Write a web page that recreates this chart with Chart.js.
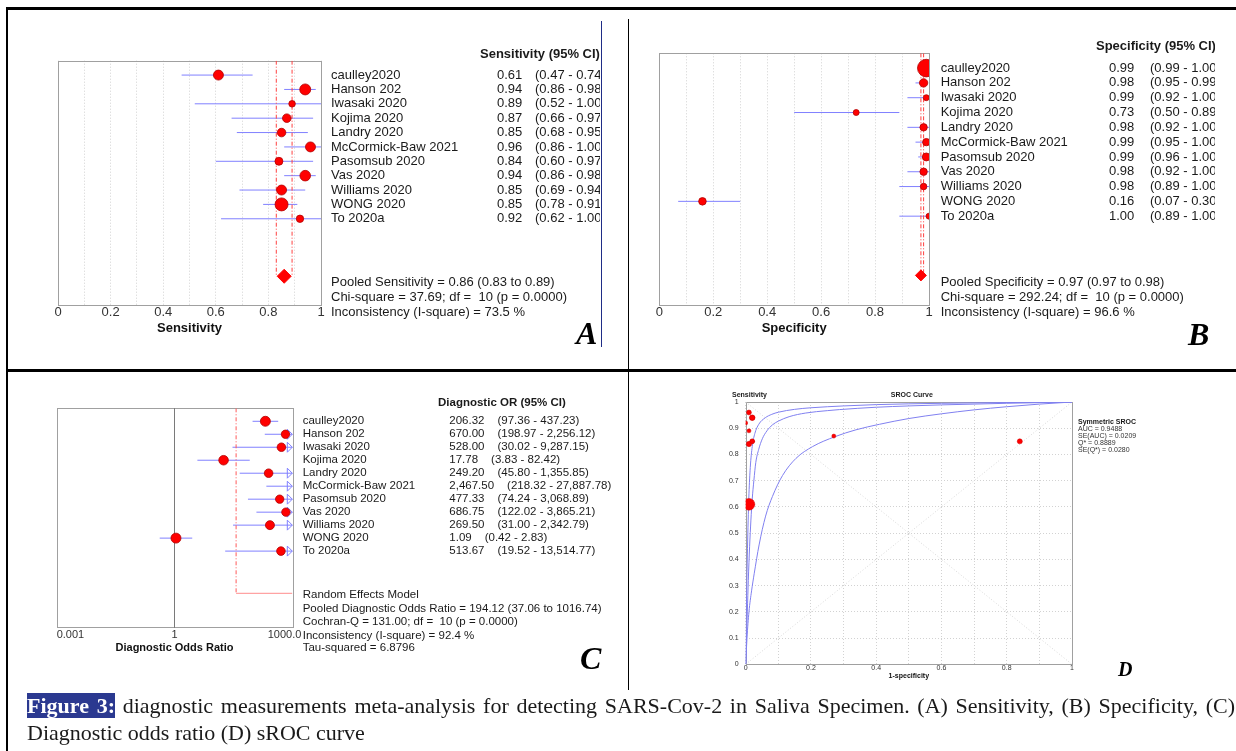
<!DOCTYPE html>
<html lang="en">
<head>
<meta charset="UTF-8">
<title>Figure 3 - saliva specimen meta-analysis</title>
<style>
  body { margin: 0; background: #fff; }
  #page { position: relative; width: 1236px; height: 751px; overflow: hidden; background: #fff; }
  #page canvas { position: absolute; left: 0; top: 0; }
  .rule { position: absolute; background: #000; }
  .letter { position: absolute; font-family: "Liberation Serif", serif; font-weight: bold; font-style: italic; line-height: 1; color: #000; }
  #caption { position: absolute; left: 27px; top: 692px; width: 1208px; font-family: "Liberation Serif", serif; font-size: 22px; line-height: 27px; color: #1a1a1a; }
  #caption .l1 { text-align: justify; text-align-last: justify; }
  #caption .fig { background: #2b3990; color: #fff; font-weight: bold; }
</style>
<script src="https://cdn.jsdelivr.net/npm/chart.js"></script>
</head>
<body>
<div id="page">
  <canvas id="panelA" width="1236" height="751"></canvas>
  <canvas id="panelB" width="1236" height="751"></canvas>
  <canvas id="panelC" width="1236" height="751"></canvas>
  <canvas id="panelD" width="1236" height="751"></canvas>

  <div class="rule" style="left:7px;top:7px;width:1229px;height:3px"></div>
  <div class="rule" style="left:6px;top:7px;width:2px;height:744px"></div>
  <div class="rule" style="left:7px;top:369px;width:1229px;height:3px"></div>
  <div class="rule" style="left:628px;top:19px;width:1px;height:671px"></div>
  <div class="rule" style="left:601px;top:21px;width:1px;height:326px;background:#1f2d86"></div>

  <div class="letter" style="left:576px;top:317px;font-size:32px">A</div>
  <div class="letter" style="left:1188px;top:318px;font-size:32px">B</div>
  <div class="letter" style="left:580px;top:642px;font-size:32px">C</div>
  <div class="letter" style="left:1118px;top:659px;font-size:20px">D</div>

  <div id="caption">
    <div class="l1"><span class="fig">Figure 3:</span> diagnostic measurements meta-analysis for detecting SARS-Cov-2 in Saliva Specimen. (A) Sensitivity, (B) Specificity, (C)</div>
    <div class="l2">Diagnostic odds ratio (D) sROC curve</div>
  </div>
</div>

<script>
// ---------- data ----------
const studies = ['caulley2020', 'Hanson 202', 'Iwasaki 2020', 'Kojima 2020', 'Landry 2020',
  'McCormick-Baw 2021', 'Pasomsub 2020', 'Vas 2020', 'Williams 2020', 'WONG 2020', 'To 2020a'];

const sens       = [0.61, 0.94, 0.89, 0.87, 0.85, 0.96, 0.84, 0.94, 0.85, 0.85, 0.92];
const sensLo     = [0.47, 0.86, 0.52, 0.66, 0.68, 0.86, 0.60, 0.86, 0.69, 0.78, 0.62];
const sensHi     = [0.74, 0.98, 1.00, 0.97, 0.95, 1.00, 0.97, 0.98, 0.94, 0.91, 1.00];
const sensWeight = [11.1, 13.4, 4.8, 8.2, 8.2, 11.1, 7.1, 12.5, 11.1, 18.8, 6.1];
const sensPooled = [0.86, 0.83, 0.89];
const sensChi    = [37.69, 10, 0.0000];
const sensI2     = 73.5;

const spec       = [0.99, 0.98, 0.99, 0.73, 0.98, 0.99, 0.99, 0.98, 0.98, 0.16, 1.00];
const specLo     = [0.99, 0.95, 0.92, 0.50, 0.92, 0.95, 0.96, 0.92, 0.89, 0.07, 0.89];
const specHi     = [1.00, 0.99, 1.00, 0.89, 1.00, 1.00, 1.00, 1.00, 1.00, 0.30, 1.00];
const specWeight = [34.4, 7.8, 4.0, 4.0, 6.1, 6.1, 7.1, 6.1, 4.8, 6.4, 4.0];
const specPooled = [0.97, 0.97, 0.98];
const specChi    = [292.24, 10, 0.0000];
const specI2     = 96.6;

const dor       = [206.32, 670.00, 528.00, 17.78, 249.20, 2467.50, 477.33, 686.75, 269.50, 1.09, 513.67];
const dorLo     = [97.36, 198.97, 30.02, 3.83, 45.80, 218.32, 74.24, 122.02, 31.00, 0.42, 19.52];
const dorHi     = [437.23, 2256.12, 9287.15, 82.42, 1355.85, 27887.78, 3068.89, 3865.21, 2342.79, 2.83, 13514.77];
const dorWeight = [11.1, 7.8, 8.2, 10.2, 8.2, 7.8, 7.8, 7.8, 9.0, 11.1, 8.2];
const dorPooled = [194.12, 37.06, 1016.74];
const dorQ      = [131.00, 10, 0.0000];
const dorI2     = 92.4;
const dorTau2   = 6.8796;
const dorTicks  = [0.001, 1, 1000];
const dorTickLabels = ['0.001', '1', '1000.0'];

// sROC curves (1-specificity, sensitivity)
const srocUpperX = [0, 0.001, 0.002, 0.004, 0.006, 0.008, 0.010, 0.014, 0.020, 0.028, 0.040, 0.060, 0.080, 0.10, 0.15, 0.20, 0.30, 0.40, 0.50, 0.60, 0.80, 1];
const srocUpperY = [0, 0.10, 0.20, 0.35, 0.47, 0.57, 0.65, 0.75, 0.83, 0.88, 0.915, 0.94, 0.953, 0.961, 0.972, 0.978, 0.985, 0.990, 0.993, 0.995, 0.998, 1];
const srocMidX   = [0, 0.002, 0.005, 0.008, 0.012, 0.016, 0.020, 0.025, 0.031, 0.040, 0.051, 0.065, 0.082, 0.10, 0.133, 0.184, 0.25, 0.287, 0.40, 0.50, 0.60, 0.80, 1];
const srocMidY   = [0, 0.08, 0.20, 0.32, 0.45, 0.55, 0.63, 0.70, 0.77, 0.82, 0.86, 0.89, 0.913, 0.927, 0.944, 0.958, 0.967, 0.971, 0.980, 0.985, 0.989, 0.995, 1];
const srocLowX   = [0, 0.004, 0.010, 0.018, 0.026, 0.041, 0.061, 0.082, 0.113, 0.154, 0.205, 0.274, 0.338, 0.41, 0.50, 0.60, 0.70, 0.80, 0.90, 1];
const srocLowY   = [0, 0.10, 0.20, 0.28, 0.345, 0.455, 0.565, 0.64, 0.72, 0.785, 0.83, 0.868, 0.894, 0.915, 0.937, 0.955, 0.970, 0.982, 0.992, 1];
const srocStats  = [0.9488, 0.0209, 0.8889, 0.0280];

// ---------- look ----------
const SANS = '"Liberation Sans", Arial, sans-serif';
const CI_BLUE = '#8080ff';
const DOT_RED = '#ff0000';
const DOT_EDGE = '#b00000';
const POOL_RED = '#ff4040';
const FRAME_GREY = '#a0a0a0';
const GRID_GREY = '#d2d2d2';
const INK = '#1a1a1a';
Chart.defaults.font.family = SANS;

const f2 = v => v.toFixed(2);
const fN = v => v.toLocaleString('en-US', { minimumFractionDigits: 2, maximumFractionDigits: 2 });
const segments = (lo, hi) => lo.flatMap((l, i) => [{ x: l, y: i }, { x: hi[i], y: i }, { x: null, y: null }]);
const vline = (x, y0, y1) => [{ x, y: y0 }, { x, y: y1 }];

// text drawn on the canvas; rows go through the y scale, xv through the x scale
function textLayer(items, clipRight) {
  return {
    id: 'textLayer',
    afterDraw(chart) {
      const { ctx, scales } = chart;
      ctx.save();
      if (clipRight) { ctx.beginPath(); ctx.rect(0, 0, clipRight, chart.height); ctx.clip(); }
      ctx.textBaseline = 'middle';
      let lastEnd = 0;
      for (const t of items) {
        ctx.font = t.font;
        ctx.fillStyle = t.color || INK;
        ctx.textAlign = t.align || 'left';
        let x = t.xv !== undefined ? scales.x.getPixelForValue(t.xv) + (t.dx || 0) : t.x;
        if (t.follow !== undefined) x = lastEnd + t.follow;
        const y = t.row !== undefined ? scales.y.getPixelForValue(t.row) : t.y;
        ctx.fillText(t.text, x, y);
        lastEnd = x + ctx.measureText(t.text).width;
      }
      ctx.restore();
    }
  };
}

const frame = {
  id: 'frame',
  beforeDatasetsDraw(chart) {
    const { ctx, chartArea: a } = chart;
    ctx.save();
    ctx.strokeStyle = FRAME_GREY;
    ctx.lineWidth = 1;
    ctx.strokeRect(Math.round(a.left) + 0.5, Math.round(a.top) + 0.5, Math.round(a.width), Math.round(a.height));
    ctx.restore();
  }
};

// open arrow heads where a CI runs past the axis maximum
function ciArrows(hi, max) {
  return {
    id: 'ciArrows',
    beforeDatasetsDraw(chart) {
      const { ctx, scales: { x, y } } = chart;
      const xr = x.getPixelForValue(max);
      ctx.save();
      ctx.strokeStyle = CI_BLUE;
      ctx.lineWidth = 1;
      hi.forEach((h, i) => {
        if (h <= max) return;
        const py = y.getPixelForValue(i);
        ctx.beginPath();
        ctx.moveTo(xr - 5, py - 5);
        ctx.lineTo(xr, py);
        ctx.lineTo(xr - 5, py + 5);
        ctx.closePath();
        ctx.stroke();
      });
      ctx.restore();
    }
  };
}

const unitAxis = (title, size, h) => ({
  type: 'linear', min: 0, max: 1,
  afterFit: s => { s.height = h; },
  grid: { color: GRID_GREY, drawTicks: false },
  border: { display: false, dash: [1, 2] },
  ticks: {
    stepSize: 0.1, padding: 0, autoSkip: false, maxRotation: 0, color: '#333',
    font: { size },
    callback: v => (Math.round(v * 10) % 2 === 0 ? String(+v.toFixed(1)) : '')
  },
  title: { display: true, text: title, color: '#111', font: { size, weight: 'bold' }, padding: { top: 0, bottom: 4 } }
});

function forest(id, p) {
  const datasets = [
    {
      data: p.est.map((v, i) => ({ x: v, y: i })),
      pointRadius: p.weight.map(w => 1.5 * Math.sqrt(w)),
      backgroundColor: DOT_RED, borderColor: DOT_EDGE, borderWidth: 0.8,
      clip: p.clipDots
    },
    ...p.extra,
    { type: 'line', data: segments(p.lo, p.hi), borderColor: CI_BLUE, borderWidth: 1, pointRadius: 0, clip: 0 }
  ];
  const plugins = [frame, textLayer(p.text, p.clipRight)];
  if (p.arrows) plugins.push(p.arrows);
  return new Chart(document.getElementById(id), {
    type: 'scatter',
    data: { datasets },
    plugins,
    options: {
      responsive: false, animation: false, events: [],
      layout: { padding: p.padding },
      scales: {
        x: p.x,
        y: { type: 'linear', min: -1, max: p.yMax, reverse: true, display: false }
      },
      plugins: { legend: { display: false }, tooltip: { enabled: false } }
    }
  });
}

function tableText(o) {
  const head = `bold ${o.size}px ${SANS}`, body = `${o.size}px ${SANS}`;
  const items = [{ text: o.header, font: head, x: o.headerX, row: o.headerRow }];
  o.names.forEach((n, i) => {
    items.push({ text: n, font: body, x: o.nameX, row: i });
    items.push({ text: o.vals[i], font: body, x: o.valX, row: i });
    const ci = { text: o.cis[i], font: body, row: i };
    if (o.ciX !== undefined) ci.x = o.ciX; else ci.follow = o.ciGap;
    items.push(ci);
  });
  o.notes.forEach((t, k) => items.push({ text: t, font: body, x: o.nameX, row: o.noteRows[k] }));
  return items;
}

// ---------- A: sensitivity ----------
forest('panelA', {
  est: sens, lo: sensLo, hi: sensHi, weight: sensWeight, yMax: 16,
  padding: { left: 58, top: 60.7, right: 915, bottom: 411 },
  x: unitAxis('Sensitivity', 13, 35),
  clipRight: 600,
  extra: [
    { data: [{ x: sensPooled[0], y: 14 }], pointStyle: 'rectRot', pointRadius: 7, backgroundColor: DOT_RED, borderColor: DOT_RED },
    { type: 'line', data: vline(sensPooled[1], -1, 14), borderColor: POOL_RED, borderWidth: 1, borderDash: [4, 2, 1, 2], pointRadius: 0 },
    { type: 'line', data: vline(sensPooled[2], -1, 14), borderColor: POOL_RED, borderWidth: 1, borderDash: [4, 2, 1, 2], pointRadius: 0 }
  ],
  text: tableText({
    size: 13, header: 'Sensitivity (95% CI)', headerX: 480, headerRow: -1.47,
    names: studies, nameX: 331,
    vals: sens.map(f2), valX: 497,
    cis: sensLo.map((l, i) => `(${f2(l)} - ${f2(sensHi[i])})`), ciX: 535,
    notes: [
      `Pooled Sensitivity = ${f2(sensPooled[0])} (${f2(sensPooled[1])} to ${f2(sensPooled[2])})`,
      `Chi-square = ${f2(sensChi[0])}; df =  ${sensChi[1]} (p = ${sensChi[2].toFixed(4)})`,
      `Inconsistency (I-square) = ${sensI2.toFixed(1)} %`
    ],
    noteRows: [14.45, 15.5, 16.55]
  })
});

// ---------- B: specificity ----------
forest('panelB', {
  est: spec, lo: specLo, hi: specHi, weight: specWeight, yMax: 16,
  padding: { left: 659.3, top: 53.3, right: 307, bottom: 411 },
  x: unitAxis('Specificity', 13, 35),
  clipRight: 1215,
  extra: [
    { data: [{ x: specPooled[0], y: 14 }], pointStyle: 'rectRot', pointRadius: 5.5, backgroundColor: DOT_RED, borderColor: DOT_RED },
    { type: 'line', data: vline(specPooled[1], -1, 14), borderColor: POOL_RED, borderWidth: 1, borderDash: [4, 2, 1, 2], pointRadius: 0 },
    { type: 'line', data: vline(specPooled[2], -1, 14), borderColor: POOL_RED, borderWidth: 1, borderDash: [4, 2, 1, 2], pointRadius: 0 }
  ],
  text: tableText({
    size: 13, header: 'Specificity (95% CI)', headerX: 1096, headerRow: -1.45,
    names: studies, nameX: 940.7,
    vals: spec.map(f2), valX: 1109,
    cis: specLo.map((l, i) => `(${f2(l)} - ${f2(specHi[i])})`), ciX: 1150,
    notes: [
      `Pooled Specificity = ${f2(specPooled[0])} (${f2(specPooled[1])} to ${f2(specPooled[2])})`,
      `Chi-square = ${f2(specChi[0])}; df =  ${specChi[1]} (p = ${specChi[2].toFixed(4)})`,
      `Inconsistency (I-square) = ${specI2.toFixed(1)} %`
    ],
    noteRows: [14.5, 15.5, 16.5]
  })
});

// ---------- C: diagnostic odds ratio ----------
const dorText = tableText({
  size: 11.5, header: 'Diagnostic OR (95% CI)', headerX: 438, headerRow: -1.43,
  names: studies, nameX: 302.7,
  vals: dor.map(fN), valX: 449.3,
  cis: dorLo.map((l, i) => `(${fN(l)} - ${fN(dorHi[i])})`), ciGap: 13,
  notes: [
    'Random Effects Model',
    `Pooled Diagnostic Odds Ratio = ${f2(dorPooled[0])} (${f2(dorPooled[1])} to ${f2(dorPooled[2])})`,
    `Cochran-Q = ${f2(dorQ[0])}; df =  ${dorQ[1]} (p = ${dorQ[2].toFixed(4)})`,
    `Inconsistency (I-square) = ${dorI2.toFixed(1)} %`,
    `Tau-squared = ${dorTau2.toFixed(4)}`
  ],
  noteRows: [13.36, 14.46, 15.46, 16.5, 17.46]
});
const tickAlign = ['left', 'center', 'right'];
const tickNudge = [0, 0, 9];
dorTicks.forEach((v, k) => dorText.push({
  text: dorTickLabels[k], font: `11px ${SANS}`, color: '#333', xv: v, dx: tickNudge[k], y: 635, align: tickAlign[k]
}));

forest('panelC', {
  est: dor, lo: dorLo, hi: dorHi, weight: dorWeight, yMax: 15.9,
  padding: { left: 56.7, top: 408.3, right: 943.7, bottom: 92.1 },
  x: {
    type: 'logarithmic', min: 0.001, max: 1000,
    afterFit: s => { s.height = 31.2; },
    grid: { display: false }, border: { display: false }, ticks: { display: false },
    title: { display: true, text: 'Diagnostic Odds Ratio', color: '#111', font: { size: 11, weight: 'bold' }, padding: { top: 0, bottom: 4 } }
  },
  clipDots: 0,
  clipRight: 627,
  arrows: ciArrows(dorHi, 1000),
  extra: [
    { type: 'line', data: vline(dorPooled[1], -1, 13.25), borderColor: '#ff5a5a', borderWidth: 1, borderDash: [4, 2, 1, 2], pointRadius: 0 },
    { type: 'line', data: [{ x: dorPooled[1], y: 13.25 }, { x: dorPooled[2], y: 13.25 }], borderColor: '#ff8c8c', borderWidth: 1, pointRadius: 0, clip: 0 },
    { type: 'line', data: vline(1, -1, 15.9), borderColor: '#7a7a7a', borderWidth: 1, pointRadius: 0 }
  ],
  text: dorText
});

// ---------- D: sROC ----------
const curve = (xs, ys) => ({
  type: 'line', data: xs.map((x, i) => ({ x, y: ys[i] })),
  borderColor: '#8080f0', borderWidth: 1, pointRadius: 0, cubicInterpolationMode: 'monotone', clip: 0
});
const tiny = `7px ${SANS}`, tinyBold = `bold 7px ${SANS}`;
const srocText = [
  { text: 'Sensitivity', font: tinyBold, x: 732, y: 395 },
  { text: 'SROC Curve', font: tinyBold, xv: 0.5, dx: 3, y: 395, align: 'center' },
  { text: 'Symmetric SROC', font: tinyBold, x: 1078, y: 421.7 },
  { text: `AUC = ${srocStats[0].toFixed(4)}`, font: tiny, color: '#333', x: 1078, y: 428.9 },
  { text: `SE(AUC) = ${srocStats[1].toFixed(4)}`, font: tiny, color: '#333', x: 1078, y: 436.1 },
  { text: `Q* = ${srocStats[2].toFixed(4)}`, font: tiny, color: '#333', x: 1078, y: 443.3 },
  { text: `SE(Q*) = ${srocStats[3].toFixed(4)}`, font: tiny, color: '#333', x: 1078, y: 450.5 }
];
const dotted = { color: GRID_GREY, drawTicks: false };

new Chart(document.getElementById('panelD'), {
  type: 'scatter',
  data: {
    datasets: [
      {
        data: spec.map((s, i) => ({ x: 1 - s, y: sens[i] })),
        pointRadius: specWeight.map(w => Math.sqrt(w)),
        backgroundColor: DOT_RED, borderColor: '#d00000', borderWidth: 0.5, clip: 0
      },
      curve(srocUpperX, srocUpperY),
      curve(srocMidX, srocMidY),
      curve(srocLowX, srocLowY),
      { type: 'line', data: [{ x: 0, y: 0 }, { x: 1, y: 1 }], borderColor: '#d8d8d8', borderWidth: 1, borderDash: [1, 2], pointRadius: 0 },
      { type: 'line', data: [{ x: 0, y: 1 }, { x: 1, y: 0 }], borderColor: '#d8d8d8', borderWidth: 1, borderDash: [1, 2], pointRadius: 0 }
    ]
  },
  plugins: [frame, textLayer(srocText)],
  options: {
    responsive: false, animation: false, events: [],
    layout: { padding: { left: 715.7, top: 402, right: 164, bottom: 70.8 } },
    scales: {
      x: {
        type: 'linear', min: 0, max: 1,
        afterFit: s => { s.height = 15.9; },
        grid: dotted, border: { display: false, dash: [1, 2] },
        ticks: {
          stepSize: 0.1, padding: 0, autoSkip: false, maxRotation: 0, color: '#333', font: { size: 7 },
          callback: v => (Math.round(v * 10) % 2 === 0 ? String(+v.toFixed(1)) : '')
        },
        title: { display: true, text: '1-specificity', color: '#111', font: { size: 7, weight: 'bold' }, padding: { top: 0, bottom: 0 } }
      },
      y: {
        type: 'linear', min: 0, max: 1,
        afterFit: s => { s.width = 30; },
        grid: dotted, border: { display: false, dash: [1, 2] },
        ticks: { stepSize: 0.1, padding: 7, autoSkip: false, color: '#333', font: { size: 7 }, callback: v => String(+v.toFixed(1)) }
      }
    },
    plugins: { legend: { display: false }, tooltip: { enabled: false } }
  }
});
</script>
</body>
</html>
